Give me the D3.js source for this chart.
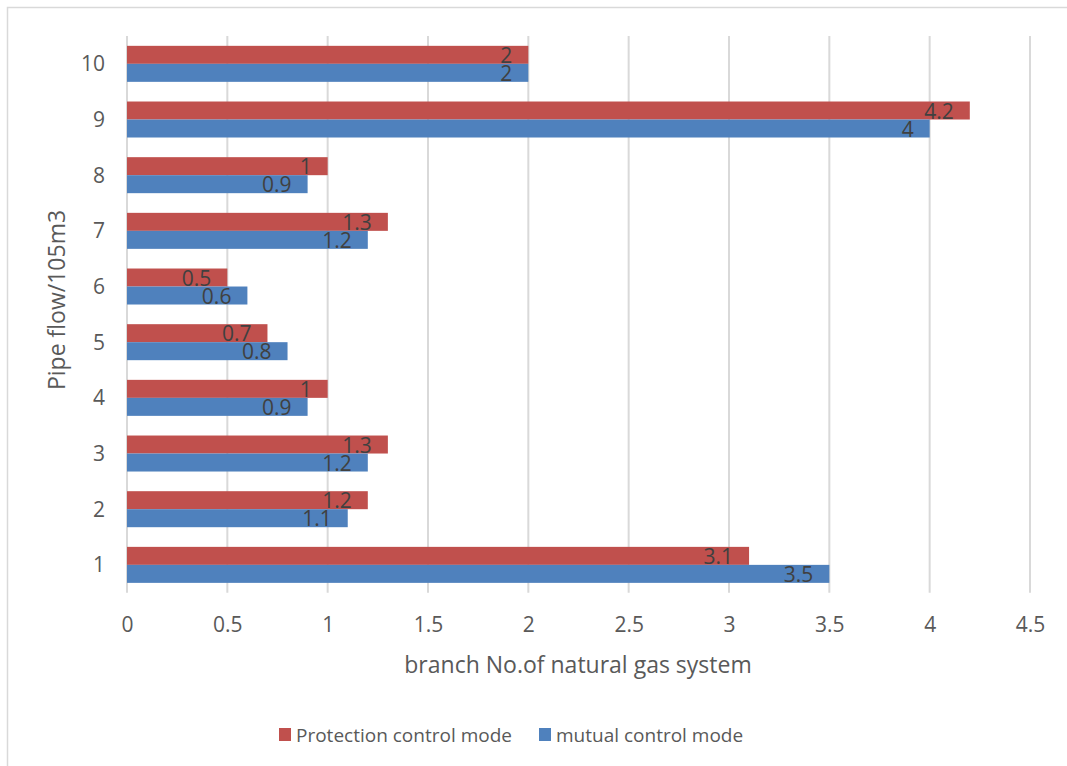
<!DOCTYPE html>
<html><head><meta charset="utf-8">
<script src="https://cdn.jsdelivr.net/npm/d3@7"></script>
<style>body{margin:0;background:#fff;} text{font-family:"Open Sans",sans-serif;}</style>
</head><body>
<svg id="c" width="1067" height="766"></svg>
<script>
const categories = ["1","2","3","4","5","6","7","8","9","10"];
const protection = [3.1,1.2,1.3,1.0,0.7,0.5,1.3,1.0,4.2,2.0];
const mutual = [3.5,1.1,1.2,0.9,0.8,0.6,1.2,0.9,4.0,2.0];
const xTicks = [0,0.5,1,1.5,2,2.5,3,3.5,4,4.5];
const seriesNames = ["Protection control mode","mutual control mode"];
const colors = ["#c0504d","#4f81bd"];

const svg = d3.select("#c");
svg.append("rect").attr("x",7.5).attr("y",7.5).attr("width",1100).attr("height",800)
  .attr("fill","#fff").attr("stroke","#d9d9d9").attr("stroke-width",1.5);

const L=127,R=1030,T=36,B=592.7;
const x = d3.scaleLinear().domain([0,4.5]).range([L,R]);
const y = d3.scaleBand().domain(categories.slice().reverse()).range([T,B]).paddingInner(0.3533).paddingOuter(0.1767);
const sub = d3.scaleBand().domain([0,1]).range([0,y.bandwidth()]);

// gridlines
svg.append("g").selectAll("line").data(xTicks).join("line")
  .attr("x1",d=>x(d)).attr("x2",d=>x(d)).attr("y1",T).attr("y2",B)
  .attr("stroke","#d9d9d9").attr("stroke-width",2);

// x tick labels
const xa = svg.append("g").attr("transform",`translate(0,${B})`)
  .call(d3.axisBottom(x).tickValues(xTicks).tickSize(0).tickPadding(39).tickFormat(d=>d3.format("")(d)));
xa.select(".domain").remove();
xa.selectAll("text").attr("font-size",21).attr("fill","#595959").attr("font-family","'Open Sans',sans-serif").attr("dy",0);

// y tick labels
const ya = svg.append("g").attr("transform",`translate(${L},0)`)
  .call(d3.axisLeft(y).tickSize(0).tickPadding(22));
ya.select(".domain").remove();
ya.selectAll("text").attr("font-size",21).attr("fill","#595959").attr("font-family","'Open Sans',sans-serif").attr("dy","0.36em");

const data = categories.map((c,i)=>({c, vals:[protection[i], mutual[i]]}));
const groups = svg.append("g").selectAll("g").data(data).join("g")
  .attr("transform",d=>`translate(0,${y(d.c)})`);
groups.selectAll("rect").data(d=>d.vals.map((v,k)=>({v,k}))).join("rect")
  .attr("x",x(0)).attr("y",d=>sub(d.k)).attr("width",d=>x(d.v)-x(0)).attr("height",sub.bandwidth())
  .attr("fill",d=>colors[d.k]);
groups.selectAll("text").data(d=>d.vals.map((v,k)=>({v,k}))).join("text")
  .attr("x",d=>x(d.v)-16).attr("y",d=>sub(d.k)+sub.bandwidth()-1)
  .attr("text-anchor","end").attr("font-size",21).attr("fill","#404040")
  .text(d=>d3.format("")(d.v));

// axis titles
svg.append("text").attr("x",578).attr("y",673).attr("text-anchor","middle")
  .attr("font-size",23).attr("fill","#595959").text("branch No.of natural gas system");
svg.append("text").attr("transform",`translate(65,300) rotate(-90)`).attr("text-anchor","middle")
  .attr("font-size",23).attr("fill","#595959").text("Pipe flow/105m3");

// legend
const legX=[279,539];
const lg = svg.append("g").selectAll("g").data(seriesNames).join("g")
  .attr("transform",(d,i)=>`translate(${legX[i]},728)`);
lg.append("rect").attr("width",12).attr("height",13).attr("fill",(d,i)=>colors[i]);
lg.append("text").attr("x",17).attr("y",14).attr("font-size",19).attr("fill","#595959").text(d=>d);
</script>
</body></html>
